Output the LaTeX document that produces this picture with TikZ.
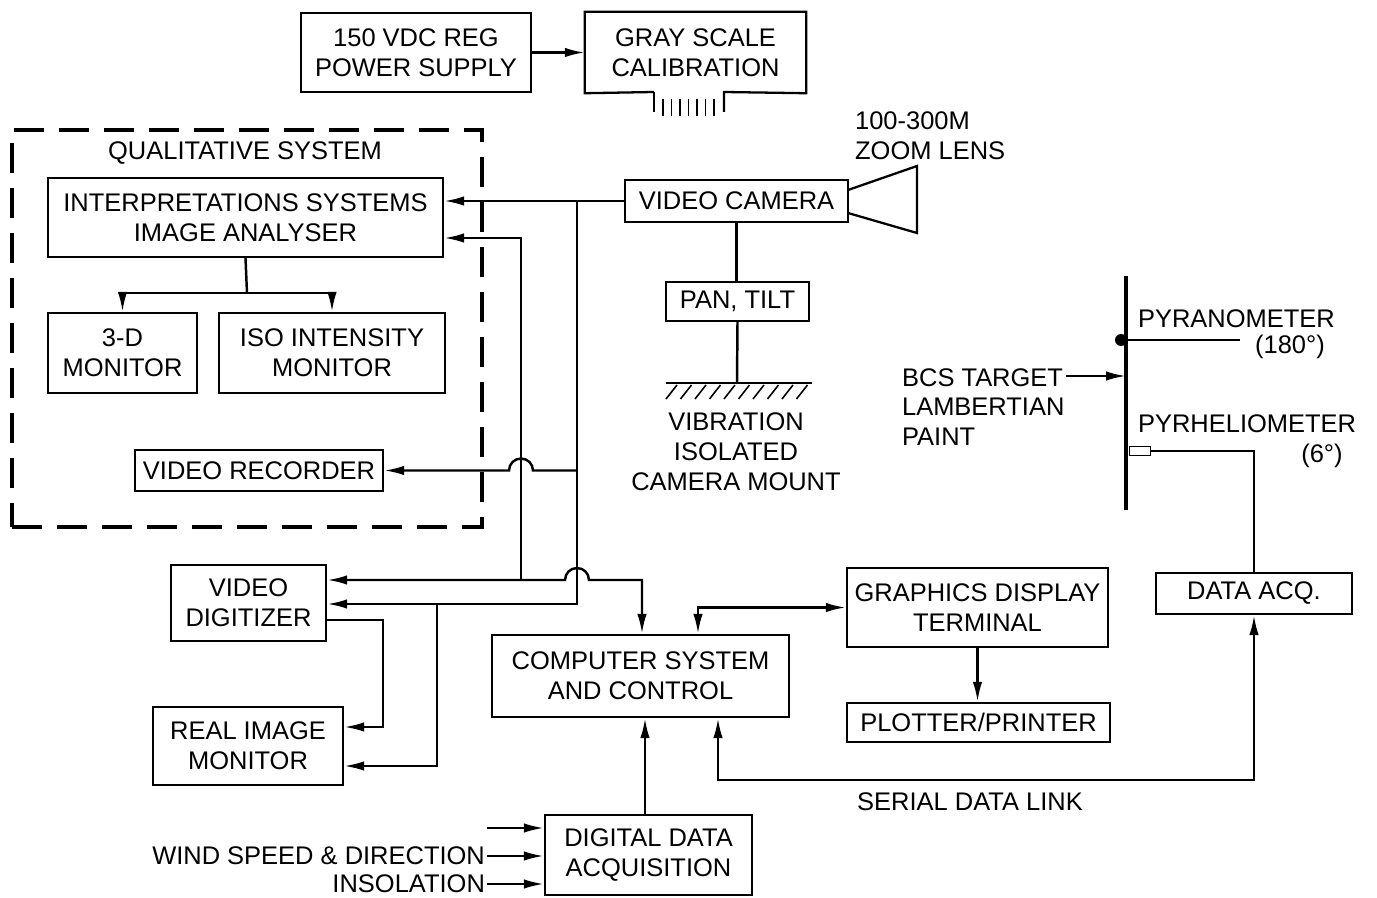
\documentclass[tikz,border=0pt]{standalone}
\usepackage{fontspec}
\setmainfont{Liberation Sans}
\usetikzlibrary{arrows.meta,positioning,calc}

\begin{document}
\begin{tikzpicture}[
	x=0.02cm, y=-0.02cm,
	>={Latex[length=4mm,width=1.9mm]},
	line width=1.4pt,
	every node/.style={font=\fontsize{14.5}{17}\selectfont, align=center, inner sep=0.5pt},
	unit/.style={draw, rectangle, line width=1.3pt},
	dashedbox/.style={draw, dash pattern=on 0.6cm off 0.3cm, line width=1.8pt}
	]
	\useasboundingbox (0,0) rectangle (1377,898);
	
	% Supply and calibration
	\node[unit, minimum width=4.6cm, minimum height=1.58cm] (psu) at (416,52.5) {150 VDC REG\\POWER SUPPLY};
	\node[minimum width=4.38cm, minimum height=1.58cm] (gray) at (695.5,52.5) {GRAY SCALE\\CALIBRATION};
	\draw[line width=1.3pt] (654,92) -- (gray.south west) -- (gray.north west) -- (gray.north east) -- (gray.south east) -- (724,92) -- (724,112);
	\draw[line width=1.3pt] (654,92) -- (654,112);
	\foreach \i in {0,...,6}
	{
		\draw[line width=0.9pt] (663+8.5*\i,99) -- (663+8.5*\i,116);
	}
	\draw[->] (psu.east) -- (gray.west);
	
	% Qualitative system
	\node[dashedbox, minimum width=9.4cm, minimum height=7.94cm] (qual) at (247,328.5) {};
	\node (qualtitle) at (245,153) {QUALITATIVE SYSTEM};
	\node[unit, minimum width=7.9cm, minimum height=1.58cm] (isa) at (245.5,217.5) {INTERPRETATIONS SYSTEMS\\IMAGE ANALYSER};
	\node[unit, minimum width=2.98cm, minimum height=1.6cm] (mon3d) at (122.5,353) {3-D\\MONITOR};
	\node[unit, minimum width=4.52cm, minimum height=1.6cm] (isomon) at (332,353) {ISO INTENSITY\\MONITOR};
	\node[unit, minimum width=4.96cm, minimum height=0.82cm] (vrec) at (259,470.5) {VIDEO RECORDER};
	\coordinate (split) at (247,293);
	\draw (isa.south) -- (split);
	\draw[->] (split) -| (mon3d.north);
	\draw[->] (split) -| (isomon.north);
	
	% Camera
	\node[unit, minimum width=4.46cm, minimum height=0.84cm] (cam) at (736.5,201) {VIDEO CAMERA};
	\draw[line width=1.3pt] (848,190) -- (917,166) -- (917,233) -- (848,213);
	\node[anchor=west, align=left] (lens) at (853,136) {100-300M\\ZOOM LENS};
	\node[unit, minimum width=2.86cm, minimum height=0.78cm] (pan) at (737.5,301.5) {PAN, TILT};
	\coordinate (mount) at (737,383);
	\draw (cam.south) -- (cam.south |- pan.north);
	\draw (pan.south) -- (mount);
	\draw (666,383) -- (812,383);
	\foreach \i in {0,...,9}
	{
		\draw[line width=0.9pt] (677+14.5*\i,385) -- (666+14.5*\i,399);
	}
	\node (mounttext) at (736,452) {VIBRATION\\ISOLATED\\CAMERA MOUNT};
	
	% Digitizer, monitor, computer
	\node[unit, minimum width=3.1cm, minimum height=1.52cm] (vdig) at (248.5,603) {VIDEO\\DIGITIZER};
	\node[unit, minimum width=3.8cm, minimum height=1.56cm] (rim) at (248,746) {REAL IMAGE\\MONITOR};
	\node[unit, minimum width=5.94cm, minimum height=1.64cm] (comp) at (640.5,676) {COMPUTER SYSTEM\\AND CONTROL};
	\node[unit, minimum width=5.22cm, minimum height=1.58cm] (gdt) at (977.5,607.5) {GRAPHICS DISPLAY\\TERMINAL};
	\node[unit, minimum width=5.26cm, minimum height=0.78cm] (plot) at (978.5,722.5) {PLOTTER/PRINTER};
	\node[unit, minimum width=4.14cm, minimum height=1.6cm] (dda) at (648.5,855) {DIGITAL DATA\\ACQUISITION};
	\node[unit, minimum width=3.92cm, minimum height=0.82cm] (dacq) at (1254,593.5) {DATA ACQ.};
	
	% Video lines
	\coordinate (busTop) at (577,201);
	\coordinate (busBot) at (577,604);
	\coordinate (tieA) at (521,238);
	\coordinate (tieB) at (521,580);
	\coordinate (compIn) at (642,580);
	\draw[->] (cam.west) -- (cam.west -| isa.east);
	\draw[->] (busTop) -- (busBot) -- (busBot -| vdig.east);
	\draw[<-] (vrec.east) -- ($(vrec.east -| tieA)+(-12,0)$) arc[start angle=180,end angle=0,radius=0.24cm] -- (vrec.east -| busTop);
	\draw[->] (tieB) -- (tieA) -- (tieA -| isa.east);
	\draw[<->] (tieB -| vdig.east) -- ($(tieB -| busTop)+(-12,0)$) arc[start angle=180,end angle=0,radius=0.24cm] -- (compIn) -- (compIn |- comp.north);
	\coordinate (rimTap) at (437,604);
	\draw[->] ($(vdig.east)+(0,17)$) -- ++(56,0) |- ($(rim.east)+(0,-19)$);
	\draw[->] (rimTap) |- ($(rim.east)+(0,20)$);
	
	% Computer links
	\coordinate (gdtTap) at (698,607.5);
	\draw[<->] (gdtTap |- comp.north) -- (gdtTap) -- (gdt.west);
	\draw[->] (gdt.south) -- (gdt.south |- plot.north);
	\coordinate (ddaOut) at (645,815);
	\draw[->] (ddaOut) -- (ddaOut |- comp.south);
	
	% Data inputs
	\coordinate (spare) at (487,828);
	\node[anchor=east] (wind) at (487,856) {WIND SPEED \& DIRECTION};
	\node[anchor=east] (insol) at (487,884) {INSOLATION};
	\draw[->] (spare) -- (spare -| dda.west);
	\draw[->] (wind.east) -- (wind.east -| dda.west);
	\draw[->] (insol.east) -- (insol.east -| dda.west);
	
	% Target and radiometers
	\coordinate (barTop) at (1126,276);
	\coordinate (barBot) at (1126,510);
	\draw[line width=2.6pt] (barTop) -- (barBot);
	\node[circle, fill, inner sep=0pt, minimum size=0.24cm] (pyrdot) at (1121,340) {};
	\coordinate (pyrEnd) at (1240,340);
	\draw (pyrdot) -- (pyrEnd);
	\node[anchor=west] (pyran) at (1136,319) {PYRANOMETER};
	\node (pyranang) at (1290,347) {(180°)};
	\node[anchor=west] (pyrhel) at (1136,424) {PYRHELIOMETER};
	\node (pyrhelang) at (1322,456) {(6°)};
	\node[draw, line width=0.9pt, inner sep=0pt, minimum width=0.42cm, minimum height=0.18cm] (phel) at (1140,451) {};
	\draw (phel.east) -| (dacq.north);
	\node[anchor=west, align=left] (bcs) at (900,407) {BCS TARGET\\LAMBERTIAN\\PAINT};
	\coordinate (bcsTail) at (1066,376);
	\draw[->] (bcsTail) -- (bcsTail -| barTop);
	\coordinate (serial) at (718,780);
	\draw[<->] (dacq.south) |- (serial) -- (serial |- comp.south);
	\node (seriallabel) at (970,802) {SERIAL DATA LINK};
	
\end{tikzpicture}
\end{document}
